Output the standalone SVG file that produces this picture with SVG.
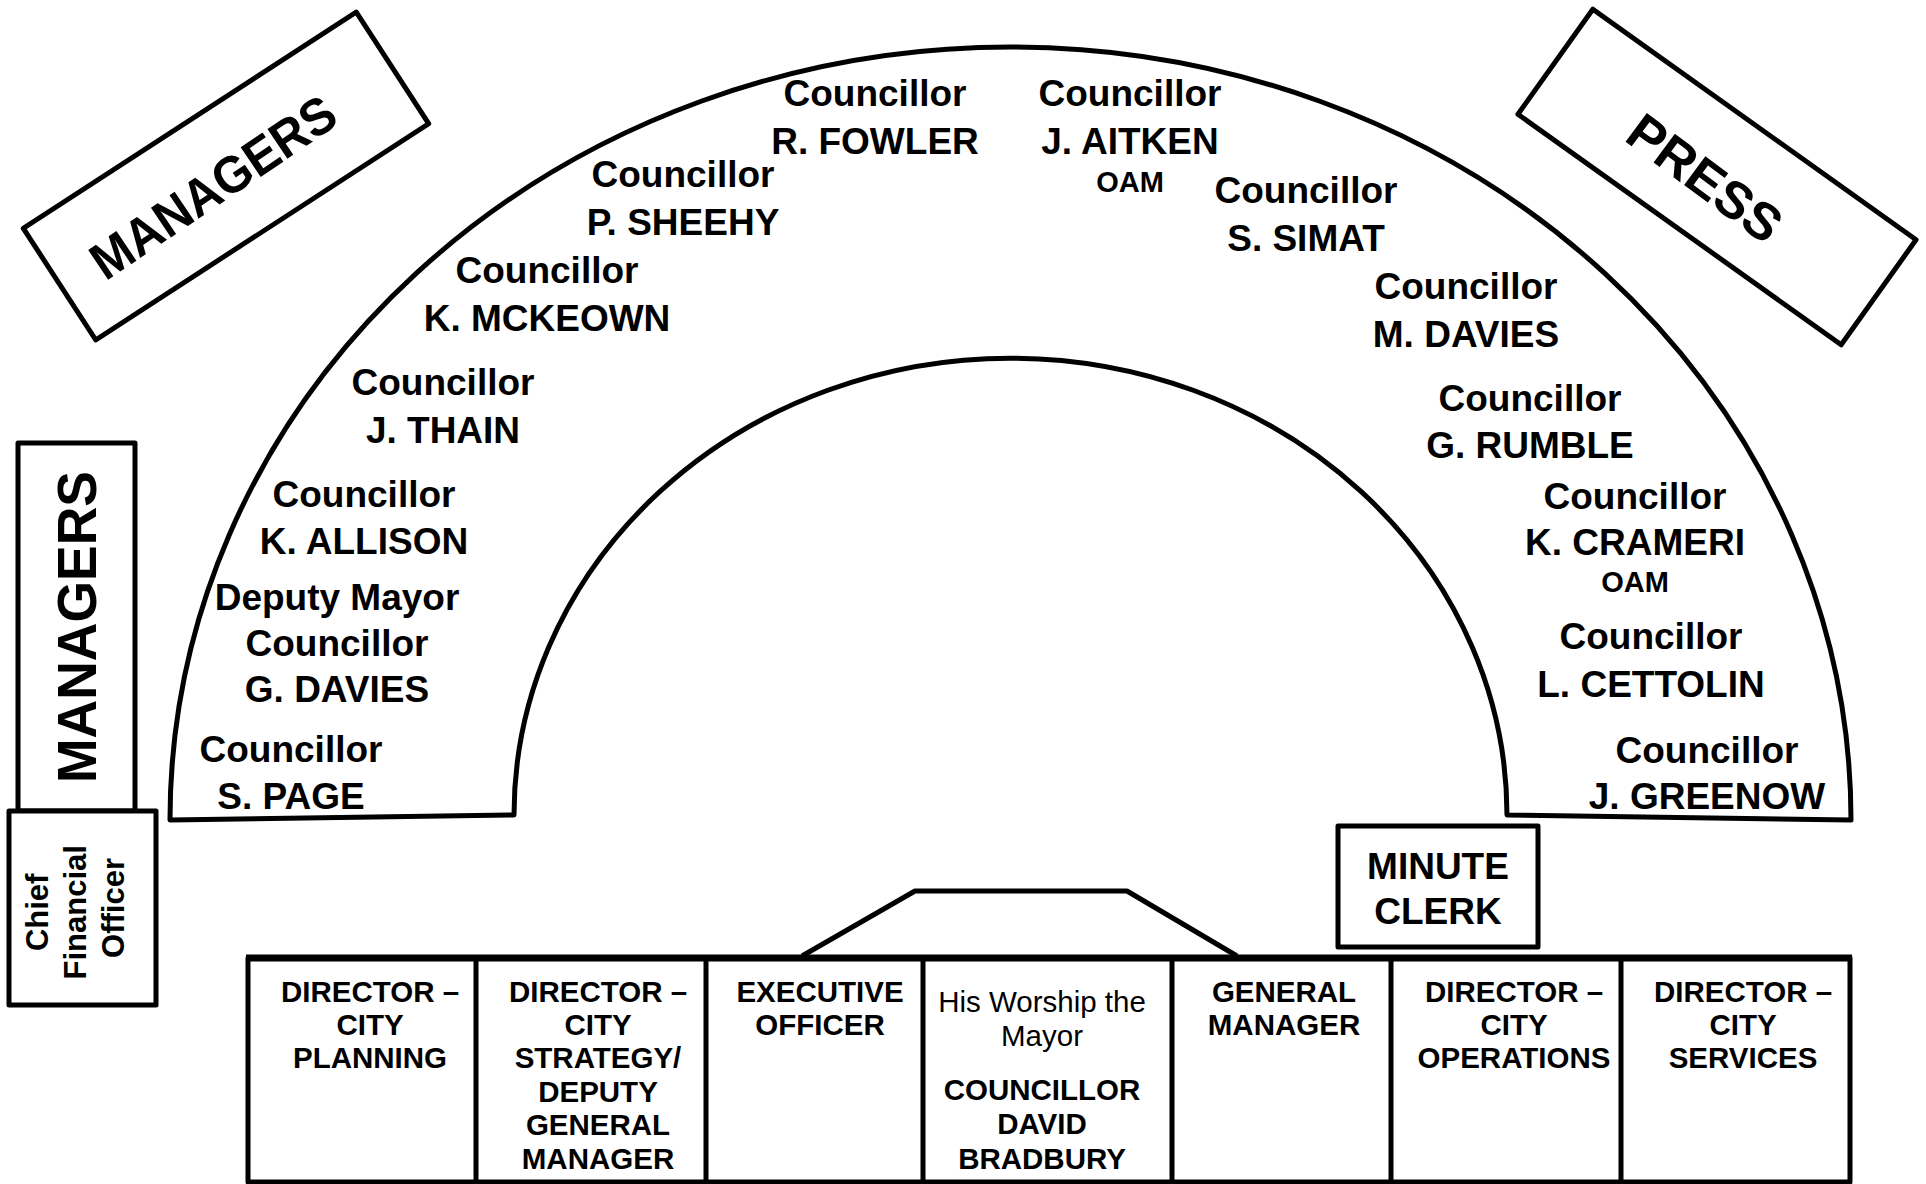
<svg xmlns="http://www.w3.org/2000/svg" width="1926" height="1184" viewBox="0 0 1926 1184">
<style>
.box{fill:#fff;stroke:#000;stroke-width:5;stroke-linejoin:round}
.ln{fill:none;stroke:#000;stroke-width:5;stroke-linejoin:round}
text{font-family:"Liberation Sans",Arial,Helvetica,sans-serif;font-weight:bold;fill:#000;text-anchor:middle}
.c{font-size:37px}
.o{font-size:29px}
.t{font-size:29.5px}
.r{font-weight:normal}
.cfo{font-size:31px}
</style>
<rect width="1926" height="1184" fill="#fff"/>

<g id="chamber">
<path class="ln" d="M170 820 A840.5 773 0 0 1 1851 820 L1507 815 A496.5 457 0 0 0 514 815 Z"/>
</g>

<g id="managers-top">
<rect class="box" x="27.5" y="109.5" width="397" height="133" transform="rotate(-33 226 176)"/>
<text x="213" y="187" dy="0.35em" transform="rotate(-34 213 187)" style="font-size:52px" textLength="284" lengthAdjust="spacingAndGlyphs">MANAGERS</text>
</g>

<g id="press">
<rect class="box" x="1518.5" y="112.5" width="397" height="129" transform="rotate(35.5 1717 177)"/>
<text x="1705" y="178" dy="0.35em" transform="rotate(36.5 1705 178)" style="font-size:52px" textLength="178" lengthAdjust="spacingAndGlyphs">PRESS</text>
</g>

<g id="managers-side">
<rect class="box" x="18" y="443" width="117" height="368"/>
<text x="0" y="0" dy="0.35em" transform="translate(77 627) rotate(-90)" style="font-size:55px" textLength="312" lengthAdjust="spacingAndGlyphs">MANAGERS</text>
</g>

<g id="cfo">
<rect class="box" x="9" y="811" width="147" height="194"/>
<text class="cfo" transform="translate(75 908) rotate(-90)">
<tspan x="0" y="-27">Chief</tspan>
<tspan x="0" y="11">Financial</tspan>
<tspan x="0" y="49">Officer</tspan>
</text>
</g>

<g id="cr-fowler"><text class="c"><tspan x="875" y="106">Councillor</tspan><tspan x="875" y="154">R. FOWLER</tspan></text></g>
<g id="cr-aitken"><text class="c"><tspan x="1130" y="106">Councillor</tspan><tspan x="1130" y="154">J. AITKEN</tspan></text><text class="o" x="1130" y="192">OAM</text></g>
<g id="cr-sheehy"><text class="c"><tspan x="683" y="187">Councillor</tspan><tspan x="683" y="235">P. SHEEHY</tspan></text></g>
<g id="cr-simat"><text class="c"><tspan x="1306" y="203">Councillor</tspan><tspan x="1306" y="251">S. SIMAT</tspan></text></g>
<g id="cr-mckeown"><text class="c"><tspan x="547" y="283">Councillor</tspan><tspan x="547" y="331">K. MCKEOWN</tspan></text></g>
<g id="cr-mdavies"><text class="c"><tspan x="1466" y="299">Councillor</tspan><tspan x="1466" y="347">M. DAVIES</tspan></text></g>
<g id="cr-thain"><text class="c"><tspan x="443" y="395">Councillor</tspan><tspan x="443" y="443">J. THAIN</tspan></text></g>
<g id="cr-rumble"><text class="c"><tspan x="1530" y="411">Councillor</tspan><tspan x="1530" y="458">G. RUMBLE</tspan></text></g>
<g id="cr-allison"><text class="c"><tspan x="364" y="507">Councillor</tspan><tspan x="364" y="554">K. ALLISON</tspan></text></g>
<g id="cr-crameri"><text class="c"><tspan x="1635" y="509">Councillor</tspan><tspan x="1635" y="555">K. CRAMERI</tspan></text><text class="o" x="1635" y="592">OAM</text></g>
<g id="cr-gdavies"><text class="c"><tspan x="337" y="610">Deputy Mayor</tspan><tspan x="337" y="656">Councillor</tspan><tspan x="337" y="702">G. DAVIES</tspan></text></g>
<g id="cr-cettolin"><text class="c"><tspan x="1651" y="649">Councillor</tspan><tspan x="1651" y="697">L. CETTOLIN</tspan></text></g>
<g id="cr-page"><text class="c"><tspan x="291" y="762">Councillor</tspan><tspan x="291" y="809">S. PAGE</tspan></text></g>
<g id="cr-greenow"><text class="c"><tspan x="1707" y="763">Councillor</tspan><tspan x="1707" y="809">J. GREENOW</tspan></text></g>

<g id="minute-clerk">
<rect class="box" x="1338" y="826" width="200" height="121"/>
<text class="c"><tspan x="1438" y="879">MINUTE</tspan><tspan x="1438" y="924">CLERK</tspan></text>
</g>

<g id="dais">
<path class="ln" d="M802 956 L915 891 L1127 891 L1237 956"/>
</g>

<g id="table">
<rect class="box" x="248" y="958" width="1602" height="224" fill="none"/>
<line x1="246" y1="958" x2="1852" y2="958" stroke="#000" stroke-width="7"/>
<path class="ln" d="M476 958V1182M706 958V1182M923 958V1182M1172 958V1182M1391 958V1182M1621 958V1182"/>
</g>

<g id="dir-planning"><text class="t"><tspan x="370" y="1002">DIRECTOR –</tspan><tspan x="370" y="1035">CITY</tspan><tspan x="370" y="1068">PLANNING</tspan></text></g>
<g id="dir-strategy"><text class="t"><tspan x="598" y="1002">DIRECTOR –</tspan><tspan x="598" y="1035">CITY</tspan><tspan x="598" y="1068">STRATEGY/</tspan><tspan x="598" y="1102">DEPUTY</tspan><tspan x="598" y="1135">GENERAL</tspan><tspan x="598" y="1169">MANAGER</tspan></text></g>
<g id="exec-officer"><text class="t"><tspan x="820" y="1002">EXECUTIVE</tspan><tspan x="820" y="1035">OFFICER</tspan></text></g>
<g id="mayor"><text class="t r"><tspan x="1042" y="1012">His Worship the</tspan><tspan x="1042" y="1046">Mayor</tspan></text><text class="t"><tspan x="1042" y="1100">COUNCILLOR</tspan><tspan x="1042" y="1134">DAVID</tspan><tspan x="1042" y="1169">BRADBURY</tspan></text></g>
<g id="general-manager"><text class="t"><tspan x="1284" y="1002">GENERAL</tspan><tspan x="1284" y="1035">MANAGER</tspan></text></g>
<g id="dir-operations"><text class="t"><tspan x="1514" y="1002">DIRECTOR –</tspan><tspan x="1514" y="1035">CITY</tspan><tspan x="1514" y="1068">OPERATIONS</tspan></text></g>
<g id="dir-services"><text class="t"><tspan x="1743" y="1002">DIRECTOR –</tspan><tspan x="1743" y="1035">CITY</tspan><tspan x="1743" y="1068">SERVICES</tspan></text></g>
</svg>
